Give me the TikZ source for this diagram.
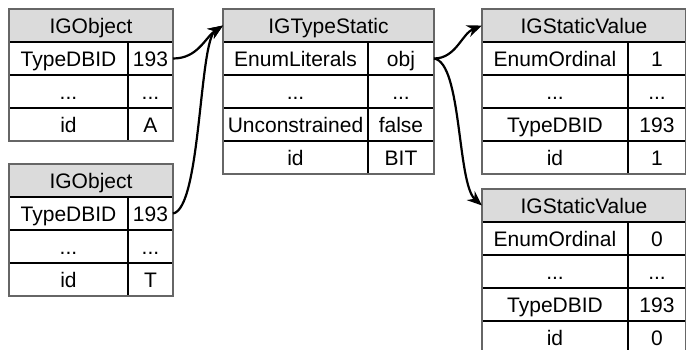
\documentclass[tikz,border=0pt]{standalone}
\usepackage{fontspec}
\setmainfont{Liberation Sans}
\usetikzlibrary{arrows.meta}
\begin{document}
\begin{tikzpicture}[x=1pt,y=-1pt,
  cell/.style={draw=black, line width=1.4pt, inner sep=0pt, outer sep=0pt,
    anchor=north west, minimum height=33pt,
    font=\fontsize{21}{25}\selectfont, text height=15pt, text depth=0pt},
  hdr/.style={cell, fill=black!14},
  frame/.style={draw=black!60, line width=1.2pt},
  link/.style={line width=2.2pt, -{Stealth[length=15pt,width=12pt]}}]
\useasboundingbox (0,0) rectangle (686,349);

% IGObject (upper)
\node[hdr, minimum width=164pt] (o1h) at (9,9) {IGObject};
\node[cell, minimum width=119pt] (o1k1) at (9,42) {TypeDBID};
\node[cell, minimum width=45pt]  (o1v1) at (128,42) {193};
\node[cell, minimum width=119pt] (o1k2) at (9,75) {...};
\node[cell, minimum width=45pt]  (o1v2) at (128,75) {...};
\node[cell, minimum width=119pt] (o1k3) at (9,108) {id};
\node[cell, minimum width=45pt]  (o1v3) at (128,108) {A};
\draw[frame] (o1h.north west) rectangle (o1v3.south east);

% IGObject (lower)
\node[hdr, minimum width=164pt] (o2h) at (9,164) {IGObject};
\node[cell, minimum width=119pt] (o2k1) at (9,197) {TypeDBID};
\node[cell, minimum width=45pt]  (o2v1) at (128,197) {193};
\node[cell, minimum width=119pt] (o2k2) at (9,230) {...};
\node[cell, minimum width=45pt]  (o2v2) at (128,230) {...};
\node[cell, minimum width=119pt] (o2k3) at (9,263) {id};
\node[cell, minimum width=45pt]  (o2v3) at (128,263) {T};
\draw[frame] (o2h.north west) rectangle (o2v3.south east);

% IGTypeStatic
\node[hdr, minimum width=211pt] (ts) at (223,9) {IGTypeStatic};
\node[cell, minimum width=145pt] (tsk1) at (223,42) {EnumLiterals};
\node[cell, minimum width=66pt]  (tsv1) at (368,42) {obj};
\node[cell, minimum width=145pt] (tsk2) at (223,75) {...};
\node[cell, minimum width=66pt]  (tsv2) at (368,75) {...};
\node[cell, minimum width=145pt] (tsk3) at (223,108) {Unconstrained};
\node[cell, minimum width=66pt]  (tsv3) at (368,108) {false};
\node[cell, minimum width=145pt] (tsk4) at (223,141) {id};
\node[cell, minimum width=66pt]  (tsv4) at (368,141) {BIT};
\draw[frame] (ts.north west) rectangle (tsv4.south east);

% IGStaticValue (ordinal 1)
\node[hdr, minimum width=204pt] (sa) at (482,9) {IGStaticValue};
\node[cell, minimum width=146pt] (sak1) at (482,42) {EnumOrdinal};
\node[cell, minimum width=58pt]  (sav1) at (628,42) {1};
\node[cell, minimum width=146pt] (sak2) at (482,75) {...};
\node[cell, minimum width=58pt]  (sav2) at (628,75) {...};
\node[cell, minimum width=146pt] (sak3) at (482,108) {TypeDBID};
\node[cell, minimum width=58pt]  (sav3) at (628,108) {193};
\node[cell, minimum width=146pt] (sak4) at (482,141) {id};
\node[cell, minimum width=58pt]  (sav4) at (628,141) {1};
\draw[frame] (sa.north west) rectangle (sav4.south east);

% IGStaticValue (ordinal 0)
\node[hdr, minimum width=204pt] (sb) at (482,189) {IGStaticValue};
\node[cell, minimum width=146pt] (sbk1) at (482,222) {EnumOrdinal};
\node[cell, minimum width=58pt]  (sbv1) at (628,222) {0};
\node[cell, minimum width=146pt] (sbk2) at (482,255) {...};
\node[cell, minimum width=58pt]  (sbv2) at (628,255) {...};
\node[cell, minimum width=146pt] (sbk3) at (482,288) {TypeDBID};
\node[cell, minimum width=58pt]  (sbv3) at (628,288) {193};
\node[cell, minimum width=146pt] (sbk4) at (482,321) {id};
\node[cell, minimum width=58pt]  (sbv4) at (628,321) {0};
\draw[frame] (sb.north west) rectangle (sbv4.south east);

% references
\draw[link] (o1v1.east) .. controls +(25,0) and +(-18,12) .. (ts.west);
\draw[link] (o2v1.east) .. controls +(28,-5) and +(-24,16) .. (ts.west);
\draw[link] (tsv1.east) .. controls +(22,0) and +(-20,8) .. (sa.west);
\draw[link] (tsv1.east) .. controls +(28,4) and +(-25,-22) .. (sb.west);
\end{tikzpicture}
\end{document}
